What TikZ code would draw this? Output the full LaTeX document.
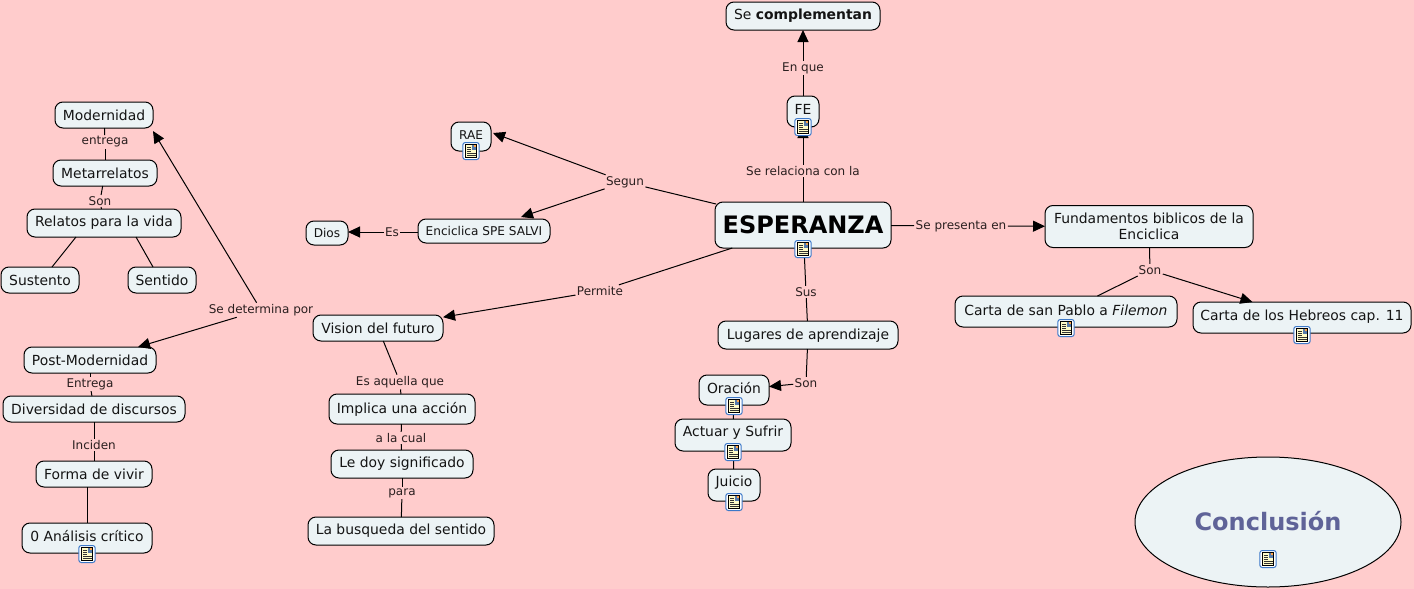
\documentclass[tikz,border=0pt]{standalone}
\usepackage{fontspec}
\setmainfont{DejaVu Sans}
\usetikzlibrary{arrows.meta,calc,shapes.geometric}
\definecolor{bgpink}{HTML}{FFCCCC}
\definecolor{nodefill}{HTML}{ECF3F5}
\definecolor{labelink}{HTML}{2A1F1F}
\definecolor{conclink}{HTML}{5F6398}
\definecolor{iconblue}{HTML}{3C78C8}
\definecolor{iconpage}{HTML}{FFFBC8}
\tikzset{
  x=1pt,y=-1pt,
  cbox/.style={draw=black,fill=nodefill,line width=1pt,rounded corners=8pt,inner xsep=0pt,inner ysep=0pt,outer sep=0pt,align=center,text=black!92},
  tn/.style={font=\fontsize{13.9}{16}\selectfont},
  ts/.style={font=\fontsize{12.1}{14}\selectfont},
  lab/.style={font=\fontsize{12}{14}\selectfont,text=labelink,inner sep=1.5pt,outer sep=0pt,yshift=-1pt},
  link/.style={draw=black,line width=1pt},
  arr/.style={link,-{Triangle[length=12pt,width=11pt]}},
}
\newcommand{\cn}[8]{%
  \pgfmathsetmacro\tw{#4-#2}\pgfmathsetmacro\th{#6-#3}\pgfmathsetmacro\td{#5-#6}\pgfmathsetmacro\cx{(#2+#4)/2}%
  \node[cbox,#7,anchor=base,minimum width=\tw pt,text height=\th pt,text depth=\td pt] (#1) at (\cx,#6) {#8};}
\newcommand{\docicon}[2]{%
  \begin{scope}[shift={(#1,#2)}]
    \draw[draw=iconblue,fill=white,line width=1pt,rounded corners=2.5pt] (-8.2,-8.5) rectangle (8.2,8.5);
    \draw[draw=black,fill=iconpage,line width=.7pt] (-5.5,-6.3) rectangle (5.5,6.3);
    \fill[iconblue!60!gray] (0.5,-5.8) rectangle (5,-1.2);
    \fill[orange!70] (3,-5.6) rectangle (5,-3.6);
    \foreach \yy in {-3.5,-1.5,0.5} \draw[black!80,line width=.55pt] (-4,\yy) -- (0,\yy);
    \foreach \yy in {2.5,4.5} \draw[black!80,line width=.55pt] (-4,\yy) -- (4.5,\yy);
  \end{scope}}
\begin{document}
\begin{tikzpicture}
\useasboundingbox (0,0) rectangle (1414,589);
\fill[bgpink] (0,0) rectangle (1414,589);
% concept nodes
\cn{comp}{726}{2}{880}{30}{19.5}{tn}{Se \textbf{complementan}}
\cn{fe}{787}{96}{819}{127}{114}{tn}{FE}
\cn{rae}{451}{122}{491}{151}{139}{ts}{RAE}
\cn{esp}{715}{202}{891}{248}{233}{font=\fontsize{24}{30}\selectfont\bfseries,text=black}{ESPERANZA}
\cn{dios}{306}{221}{348}{245}{237}{ts}{Dios}
\cn{enc}{418}{219}{550}{243}{235}{ts}{Enciclica SPE SALVI}
\node[cbox,tn,minimum width=208pt,minimum height=42pt] (fund) at (1149,226.5) {Fundamentos biblicos de la\\Enciclica};
\cn{pablo}{955}{296}{1177}{327}{315.5}{tn}{Carta de san Pablo a \textit{Filemon}}
\cn{heb}{1193}{302}{1411}{333}{320}{tn}{Carta de los Hebreos cap. 11}
\cn{lug}{718}{321}{898}{349}{339}{tn}{Lugares de aprendizaje}
\cn{ora}{699}{375}{769}{405}{393}{tn}{Oración}
\cn{act}{675}{419}{791}{451}{436.5}{tn}{Actuar y Sufrir}
\cn{jui}{708}{469}{760}{501}{486}{tn}{Juicio}
\cn{vis}{313}{315}{443}{341}{333}{tn}{Vision del futuro}
\cn{imp}{329}{394}{475}{424}{413}{tn}{Implica una acción}
\cn{ledoy}{331}{450}{473}{478}{467.5}{tn}{Le doy significado}
\cn{bus}{308}{517}{494}{545}{534.5}{tn}{La busqueda del sentido}
\cn{mod}{55}{102}{153}{128}{120}{tn}{Modernidad}
\cn{meta}{53}{160}{157}{186}{178}{tn}{Metarrelatos}
\cn{rel}{27}{209}{181}{237}{226}{tn}{Relatos para la vida}
\cn{sus}{1}{267}{79}{293}{285}{tn}{Sustento}
\cn{sen}{128}{267}{196}{293}{285}{tn}{Sentido}
\cn{post}{24}{347}{156}{373}{365}{tn}{Post-Modernidad}
\cn{div}{3}{396}{185}{422}{414}{tn}{Diversidad de discursos}
\cn{forma}{36}{461}{152}{487}{479}{tn}{Forma de vivir}
\cn{ana}{22}{523}{152}{553}{541}{tn}{0 Análisis crítico}
\node[ellipse,draw=black,fill=nodefill,line width=1pt,inner sep=0pt,outer sep=0pt,minimum width=266pt,minimum height=130pt,text=conclink,font=\fontsize{24}{28}\selectfont\bfseries,text depth=4pt,text height=20pt] (conc) at (1268,522) {Conclusión};
% linking phrases
\node[lab] (lenque) at (803,67) {En que};
\node[lab] (lrel) at (803,170) {Se relaciona con la};
\node[lab] (lseg) at (625,181) {Segun};
\node[lab] (les) at (392,231) {Es};
\node[lab] (lpres) at (961,225) {Se presenta en};
\node[lab] (lson) at (1150,269) {Son};
\node[lab] (lper) at (600,290) {Permite};
\node[lab] (lsus) at (806,291) {Sus};
\node[lab] (lson2) at (806,382) {Son};
\node[lab] (laq) at (400,381) {Es aquella que};
\node[lab] (lcual) at (401,437) {a la cual};
\node[lab] (lpara) at (402,492) {para};
\node[lab] (ldet) at (261,309) {Se determina por};
\node[lab] (lent) at (105,141) {entrega};
\node[lab] (lson3) at (100,200) {Son};
\node[lab] (lent2) at (90,383) {Entrega};
\node[lab] (linc) at (94,444) {Inciden};
% connectors
\draw[link] (fe) -- (lenque);
\draw[arr] (lenque) -- (comp);
\draw[link] (esp) -- (lrel);
\draw[arr,shorten >=-1pt] (lrel) -- (fe);
\draw[link] (esp.north west) ++(1,2) -- (lseg);
\draw[arr] (lseg) -- ($(rae.east)+(2,-3.5)$);
\draw[arr] (lseg) -- ($(enc.north)+(37,-2)$);
\draw[link] (enc.west |- les) -- (les);
\draw[arr] (les) -- (dios.east |- les);
\draw[link] (esp) -- (lpres);
\draw[arr] (lpres) -- (fund);
\draw[link] (fund) -- (lson);
\draw[link] (lson) -- (pablo);
\draw[arr] (lson) -- (heb);
\draw[link] (esp) -- (lper);
\draw[arr] (lper) -- (vis);
\draw[link] (esp) -- (lsus);
\draw[link] (lsus) -- (lug);
\draw[link] (lug) -- (lson2);
\draw[arr] (lson2) -- (ora);
\draw[link] (ora) -- (act);
\draw[link] (act) -- (jui);
\draw[link] (vis) -- (laq);
\draw[link] (laq) -- (imp);
\draw[link] (imp) -- (lcual);
\draw[link] (lcual) -- (ledoy);
\draw[link] (ledoy) -- (lpara);
\draw[link] (lpara) -- (bus);
\draw[arr] (ldet) -- ($(mod.south east)+(0,3)$);
\draw[arr] (ldet) -- ($(post.north)+(48,0)$);
\draw[link] (mod) -- (lent);
\draw[link] (lent) -- (meta);
\draw[link] (meta) -- (lson3);
\draw[link] (lson3) -- (rel);
\draw[link] ($(rel.south)+(-28,0)$) -- ($(sus.north)+(12,0)$);
\draw[link] ($(rel.south)+(32,0)$) -- ($(sen.north)+(-9,0)$);
\draw[link] (post) -- (lent2);
\draw[link] (lent2) -- (div);
\draw[link] (div) -- (linc);
\draw[link] (linc) -- (forma);
\draw[link] (forma.south -| ana.south) -- (ana.north);
% resource icons
\docicon{803}{127}
\docicon{471}{151}
\docicon{803}{249}
\docicon{1066}{328}
\docicon{1302}{335}
\docicon{734}{406}
\docicon{733}{452}
\docicon{734}{502}
\docicon{87}{554}
\docicon{1268}{559}
\end{tikzpicture}
\end{document}
